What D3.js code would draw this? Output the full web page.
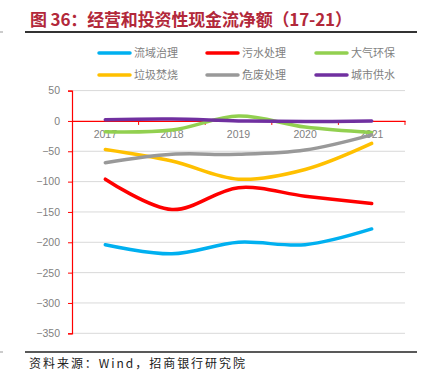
<!DOCTYPE html>
<html>
<head>
<meta charset="utf-8">
<script src="https://cdn.jsdelivr.net/npm/d3@7"></script>
<style>
  body { margin: 0; background: #fff; }
  text { font-family: "Noto Sans CJK SC", "Noto Sans", sans-serif; }
</style>
</head>
<body>
<div id="chart"></div>
<script>
const years = ["2017", "2018", "2019", "2020", "2021"];
const seriesNames = ["流域治理", "污水处理", "大气环保", "垃圾焚烧", "危废处理", "城市供水"];
const seriesColors = ["#00b0f0", "#ff0000", "#92d050", "#ffc000", "#999999", "#7030a0"];
const basin = [-204, -219, -200, -204, -178];
const sewage = [-96, -146, -110, -124, -136];
const air = [-18, -15, 8, -10, -19];
const waste = [-47, -66, -96, -80, -37];
const hazard = [-69, -55, -55, -48, -23];
const water = [2, 3, 0, -1, 0];
const yTicks = [50, 0, -50, -100, -150, -200, -250, -300, -350];

const allValues = [basin, sewage, air, waste, hazard, water];

const width = 427, height = 377;
const svg = d3.select("#chart").append("svg")
    .attr("width", width)
    .attr("height", height);

// title
svg.append("text")
    .attr("x", 30)
    .attr("y", 26)
    .attr("fill", "#b2283a")
    .attr("font-size", 17)
    .attr("font-weight", "bold")
    .attr("textLength", 322)
    .attr("lengthAdjust", "spacing")
    .text("图 36：经营和投资性现金流净额（17-21）");
svg.append("line")
    .attr("x1", 25).attr("x2", 417)
    .attr("y1", 32).attr("y2", 32)
    .attr("stroke", "#333").attr("stroke-width", 2);

// plot area
const plot = {left: 72, right: 405, top: 90.6, bottom: 333.3};

const x = d3.scaleBand()
    .domain(years)
    .range([plot.left, plot.right]);

const y = d3.scaleLinear()
    .domain([-350, 50])
    .range([plot.bottom, plot.top]);

const axisFont = "'Liberation Sans', Arial, sans-serif";

// gridlines
svg.append("g")
    .selectAll("line")
    .data(yTicks.filter(d => d !== 0))
    .enter()
    .append("line")
    .attr("x1", plot.left).attr("x2", plot.right)
    .attr("y1", d => y(d)).attr("y2", d => y(d))
    .attr("stroke", "#d9d9d9").attr("stroke-width", 1);

// y axis
const yAxis = svg.append("g")
    .attr("transform", `translate(${plot.left}, 0)`)
    .call(d3.axisLeft(y).tickValues(yTicks).tickSize(4).tickPadding(8));
yAxis.select(".domain").attr("stroke", "#ff0000").attr("stroke-width", 1.2);
yAxis.selectAll(".tick line").attr("stroke", "#ff0000");
yAxis.selectAll("text")
    .attr("fill", "#7f7f7f")
    .attr("font-size", 10.5)
    .style("font-family", axisFont);

// x axis at zero
const xAxis = svg.append("g")
    .attr("transform", `translate(0, ${y(0)})`)
    .call(d3.axisBottom(x).tickSize(0).tickPadding(10));
xAxis.select(".domain").attr("stroke", "#ff0000").attr("stroke-width", 1.2);
xAxis.selectAll("text")
    .attr("fill", "#7f7f7f")
    .attr("font-size", 10.5)
    .style("font-family", axisFont);

// category boundary ticks
const bounds = years.map(d => x(d)).concat([plot.right]).slice(1);
svg.append("g")
    .selectAll("line")
    .data(bounds)
    .enter()
    .append("line")
    .attr("x1", d => d).attr("x2", d => d)
    .attr("y1", y(0)).attr("y2", y(0) + 4)
    .attr("stroke", "#ff0000");

// lines
const line = d3.line()
    .x((d, i) => x(years[i]) + x.bandwidth() / 2)
    .y(d => y(d))
    .curve(d3.curveCatmullRom.alpha(0.5));

svg.append("g")
    .selectAll("path")
    .data(allValues)
    .enter()
    .append("path")
    .attr("d", d => line(d))
    .attr("fill", "none")
    .attr("stroke", (d, i) => seriesColors[i])
    .attr("stroke-width", 3.5)
    .attr("stroke-linecap", "round");

// legend
const legendX = [99, 207, 316];
const legendY = [53, 75];
const legend = svg.append("g")
    .selectAll("g")
    .data(seriesNames)
    .enter()
    .append("g")
    .attr("transform", (d, i) => `translate(${legendX[i % 3]}, ${legendY[Math.floor(i / 3)]})`);
legend.append("line")
    .attr("x1", 0).attr("x2", 31)
    .attr("stroke", (d, i) => seriesColors[i])
    .attr("stroke-width", 3.5)
    .attr("stroke-linecap", "round");
legend.append("text")
    .attr("x", 35)
    .attr("dy", "0.36em")
    .attr("fill", "#7f7f7f")
    .attr("font-size", 11)
    .text(d => d);

// footer
svg.append("line")
    .attr("x1", 25).attr("x2", 417)
    .attr("y1", 352).attr("y2", 352)
    .attr("stroke", "#222").attr("stroke-width", 1.5);
svg.append("text")
    .attr("x", 29)
    .attr("y", 368)
    .attr("fill", "#222")
    .attr("font-size", 12)
    .attr("textLength", 216)
    .attr("lengthAdjust", "spacing")
    .text("资料来源：Wind，招商银行研究院");

// small edge marks
[32, 352].forEach(v => {
    svg.append("line")
        .attr("x1", 0).attr("x2", 3)
        .attr("y1", v).attr("y2", v)
        .attr("stroke", "#999");
});
</script>
</body>
</html>
